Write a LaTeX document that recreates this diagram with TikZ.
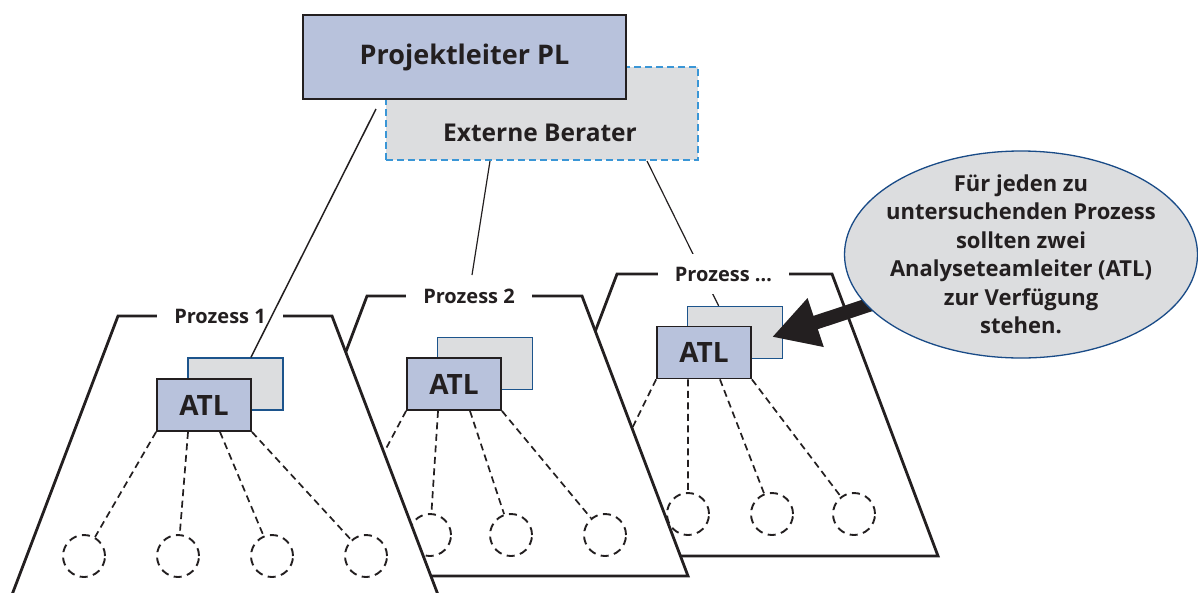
\documentclass[tikz,border=0pt]{standalone}
\usepackage{fontspec}
\setmainfont{Open Sans}
\usetikzlibrary{arrows.meta,shapes.geometric,calc}
\pgfdeclarelayer{front}
\pgfsetlayers{main,front}
\definecolor{ink}{RGB}{35,31,32}
\definecolor{bluefill}{RGB}{184,194,220}
\definecolor{grayfill}{RGB}{220,221,223}
\definecolor{backblue}{RGB}{28,84,140}
\definecolor{extblue}{RGB}{58,150,214}
\definecolor{ellblue}{RGB}{25,75,135}
\tikzset{
  plbox/.style={draw=ink, line width=1.8pt, fill=bluefill, minimum width=323pt, minimum height=84pt, inner sep=0pt, text=ink, font=\fontsize{27}{30}\selectfont\bfseries},
  extbox/.style={draw=extblue, dash pattern=on 7pt off 4pt, line width=1.5pt, fill=grayfill, minimum width=312pt, minimum height=93pt, inner sep=0pt},
  exttext/.style={inner sep=0pt, text=ink, font=\fontsize{24.5}{26}\selectfont\bfseries},
  atlbox/.style={draw=ink, line width=1.8pt, fill=bluefill, minimum width=94pt, minimum height=52pt, inner sep=0pt, text=ink, font=\fontsize{28}{30}\selectfont\bfseries},
  atlback/.style={draw=backblue, line width=1.3pt, fill=grayfill, minimum width=95pt, minimum height=52pt, inner sep=0pt},
  trap/.style={draw=ink, line width=2.8pt, fill=white, line join=miter},
  plabel/.style={fill=white, inner xsep=17pt, inner ysep=0pt, minimum height=40pt, text=ink, font=\fontsize{20}{22}\selectfont\bfseries},
  member/.style={circle, draw=ink, line width=1.9pt, dash pattern=on 8pt off 5.5pt, minimum size=42pt, inner sep=0pt, fill=white},
  link/.style={draw=ink, line width=1.7pt, dash pattern=on 7pt off 4.5pt},
  thinlink/.style={draw=ink, line width=1.2pt},
  callout/.style={ellipse, draw=ellblue, line width=1.3pt, fill=grayfill, minimum width=353pt, minimum height=207pt, inner xsep=-20pt, inner ysep=-25pt, align=center, text=ink, font=\fontsize{22}{28.5}\selectfont\bfseries},
  bigarrow/.style={draw=ink, line width=14pt, -{Triangle[length=46pt 0 0, width=48pt 0 0]}}
}
\begin{document}
\begin{tikzpicture}[x=1pt,y=-1pt]
\useasboundingbox (0,0) rectangle (1198,592);
\clip (0,0) rectangle (1198,592);

% top boxes
\node[extbox] (ext) at (542,113.5) {};
\node[exttext] (exttxt) at ($(ext.south)+(-2,-28)$) {Externe Berater};
\node[plbox] (pl) at (464.5,57) {Projektleiter PL};

% ---------------- Prozess 3 (back)
\draw[trap] (617,274) -- (832,274) -- (938,556) -- (510,556) -- cycle;
\node[atlback] (b3) at (735,332.5) {};
\node[atlbox] (a3) at (704,352.5) {ATL};
\node[member] (c30) at (590,514) {};
\node[member] (c31) at (688,514) {};
\node[member] (c32) at (772,514) {};
\node[member] (c33) at (854,514) {};
\draw[link] (a3.south west) -- (c30);
\draw[link] ($(a3.south west)!0.3333!(a3.south east)$) -- (c31);
\draw[link] ($(a3.south west)!0.6667!(a3.south east)$) -- (c32);
\draw[link] (a3.south east) -- (c33);
\coordinate (e3) at (647,161);
\draw[thinlink] (e3) -- ($(b3.north west)!0.33!(b3.north east)$);
\node[plabel] (l3) at (723.5,274) {Prozess …};

% ---------------- Prozess 2 (middle)
\draw[trap] (367,296) -- (582,296) -- (688,576) -- (261,576) -- cycle;
\node[atlback] (b2) at (485,363.5) {};
\node[atlbox] (a2) at (454,384) {ATL};
\node[member] (c20) at (340,535) {};
\node[member] (c21) at (430,535) {};
\node[member] (c22) at (511,535) {};
\node[member] (c23) at (605,535) {};
\draw[link] (a2.south west) -- (c20);
\draw[link] ($(a2.south west)!0.3333!(a2.south east)$) -- (c21);
\draw[link] ($(a2.south west)!0.6667!(a2.south east)$) -- (c22);
\draw[link] (a2.south east) -- (c23);
\node[plabel] (l2) at (469,296) {Prozess 2};
\coordinate (e2) at (490,161);
\coordinate (e2end) at (472,275);
\draw[thinlink] (e2) -- (e2end);

% ---------------- Prozess 1 (front)
\draw[trap] (118,316) -- (332,316) -- (440,600) -- (10,600) -- cycle;
\node[atlback] (b1) at (235.5,384) {};
\node[atlbox] (a1) at (204,405) {ATL};
\node[member] (c10) at (84,556) {};
\node[member] (c11) at (178,556) {};
\node[member] (c12) at (272,556) {};
\node[member] (c13) at (366,556) {};
\draw[link] (a1.south west) -- (c10);
\draw[link] ($(a1.south west)!0.3333!(a1.south east)$) -- (c11);
\draw[link] ($(a1.south west)!0.6667!(a1.south east)$) -- (c12);
\draw[link] (a1.south east) -- (c13);
\node[plabel] (l1) at (220,316) {Prozess 1};
\coordinate (plfoot) at (376,109);
\draw[line width=1.5pt, ink] (plfoot) -- ($(b1.north west)!0.66!(b1.north east)$);

% ---------------- callout
\begin{pgfonlayer}{front}
\node[callout] (ell) at (1021,254.5) {Für jeden zu\\untersuchenden Prozess\\sollten zwei\\Analyseteamleiter (ATL)\\zur Verfügung\\stehen.};
\end{pgfonlayer}
\coordinate (tip) at (772,337);
\draw[bigarrow] (ell.center) -- (tip);
\end{tikzpicture}
\end{document}
